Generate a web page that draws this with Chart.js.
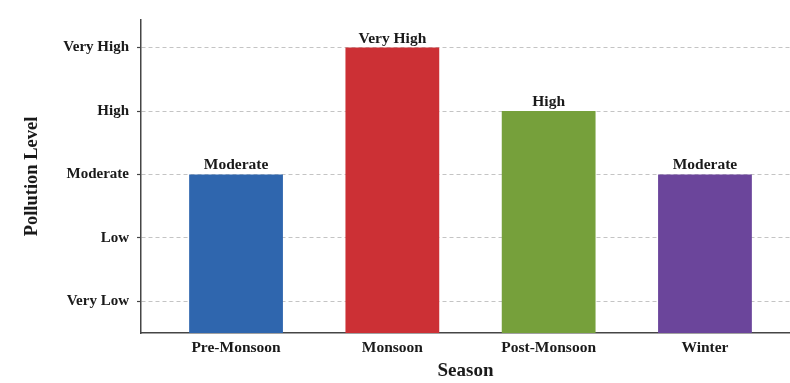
<!DOCTYPE html>
<html>
<head>
<meta charset="utf-8">
<style>
  html, body { margin: 0; padding: 0; background: #ffffff; }
  #wrap { width: 790px; height: 383px; }
</style>
<script src="https://cdn.jsdelivr.net/npm/chart.js@4/dist/chart.umd.min.js"></script>
</head>
<body>
<div id="wrap"><canvas id="c" width="790" height="383"></canvas></div>
<script>
// Ordered pollution levels (1 = Very Low ... 5 = Very High)
const levels = ['Very Low', 'Low', 'Moderate', 'High', 'Very High'];
// Seasons on the x axis
const seasons = ['Pre-Monsoon', 'Monsoon', 'Post-Monsoon', 'Winter'];
// Pollution level recorded for each season
const seasonLevels = ['Moderate', 'Very High', 'High', 'Moderate'];
const barColors = ['#2f66ae', '#cc3035', '#76a03b', '#6b459b'];

const seasonValues = seasonLevels.map(l => levels.indexOf(l) + 1);
const points = seasonValues.map((v, i) => ({ x: i, y: v }));

const serif = "'Liberation Serif', 'Times New Roman', serif";
const ink = '#1a1a1a';

// Writes the level name above each bar
const barLabels = {
  id: 'barLabels',
  afterDatasetsDraw(chart) {
    const ctx = chart.ctx;
    const meta = chart.getDatasetMeta(0);
    ctx.save();
    ctx.font = 'bold 15.5px ' + serif;
    ctx.fillStyle = ink;
    ctx.textAlign = 'center';
    ctx.textBaseline = 'alphabetic';
    meta.data.forEach((bar, i) => {
      ctx.fillText(levels[seasonValues[i] - 1], bar.x, bar.y - 5);
    });
    ctx.restore();
  }
};

new Chart(document.getElementById('c'), {
  type: 'bar',
  data: {
    datasets: [{
      data: points,
      backgroundColor: barColors,
      borderWidth: 0,
      barPercentage: 0.6,
      categoryPercentage: 1.0
    }]
  },
  options: {
    responsive: false,
    animation: false,
    devicePixelRatio: 1,
    layout: { padding: { top: 20, right: 0, left: 0, bottom: 0 } },
    plugins: {
      legend: { display: false },
      tooltip: { enabled: false }
    },
    scales: {
      x: {
        type: 'linear',
        offset: false,
        min: -0.608,
        max: 3.544,
        afterBuildTicks: s => { s.ticks = seasons.map((_, i) => ({ value: i })); },
        afterFit: s => { s.height = 50; },
        grid: { display: false, drawTicks: false },
        border: { display: true, color: '#454545', width: 1.5 },
        ticks: {
          padding: 6,
          color: ink,
          font: { family: serif, size: 15.5, weight: 'bold' },
          callback: v => seasons[v] ?? ''
        },
        title: {
          display: true,
          text: 'Season',
          color: ink,
          font: { family: serif, size: 19, weight: 'bold' },
          padding: { top: 0, bottom: 1 }
        }
      },
      y: {
        min: 0.5,
        max: 5.435,
        afterBuildTicks: s => { s.ticks = levels.map((_, i) => ({ value: i + 1 })); },
        afterFit: s => { s.width = 141; },
        grid: {
          color: '#c4c4c4',
          lineWidth: 1,
          drawTicks: true,
          tickLength: 4,
          tickColor: '#454545',
          tickBorderDash: [],
          tickWidth: 1.2
        },
        border: { display: true, color: '#454545', width: 1.5, dash: [4, 3] },
        ticks: {
          padding: 8,
          color: ink,
          font: { family: serif, size: 15, weight: 'bold' },
          callback: v => levels[v - 1] ?? ''
        },
        title: {
          display: true,
          text: 'Pollution Level',
          color: ink,
          font: { family: serif, size: 18.5, weight: 'bold' },
          padding: { top: 21, bottom: 0 }
        }
      }
    }
  },
  plugins: [barLabels]
});
</script>
</body>
</html>
